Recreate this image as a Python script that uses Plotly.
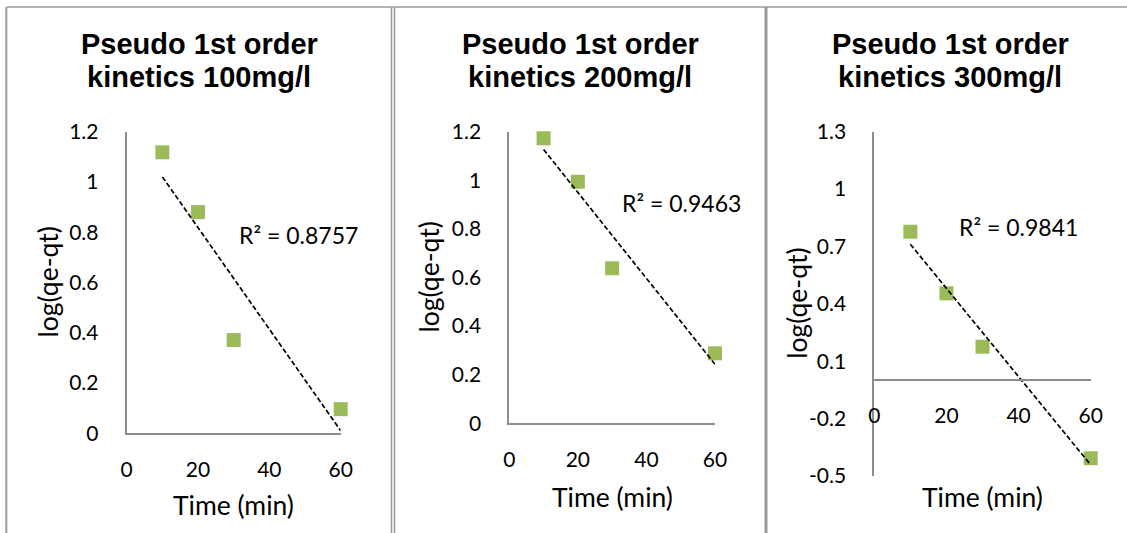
import numpy as np
import plotly.graph_objects as go

W, H = 1127, 533

# Sampling times (min) and log(qe - qt) for each initial concentration
time_min = [10, 20, 30, 60]
log_100 = [1.118, 0.880, 0.371, 0.096]
log_200 = [1.173, 0.994, 0.638, 0.288]
log_300 = [0.777, 0.455, 0.176, -0.407]

titles = [["Pseudo 1st order", "kinetics 100mg/l"],
          ["Pseudo 1st order", "kinetics 200mg/l"],
          ["Pseudo 1st order", "kinetics 300mg/l"]]
r2_labels = ["R² = 0.8757", "R² = 0.9463", "R² = 0.9841"]

x_ticks = [0, 20, 40, 60]
y_ticks_a = [0, 0.2, 0.4, 0.6, 0.8, 1, 1.2]
y_ticks_a_text = ["0", "0.2", "0.4", "0.6", "0.8", "1", "1.2"]
y_ticks_c = [-0.5, -0.2, 0.1, 0.4, 0.7, 1, 1.3]
y_ticks_c_text = ["-0.5", "-0.2", "0.1", "0.4", "0.7", "1", "1.3"]

GREEN = "#9BBB59"
AXIS = "#8c8c8c"
FRAME = "#9a9a9a"
TICK_FONT = dict(family="Lato, Open Sans, sans-serif", size=21, color="#000000")
TITLE_FONT = dict(family="Liberation Sans, Arial, sans-serif", size=29, color="#000000")
LABEL_FONT = dict(family="Lato, Open Sans, sans-serif", size=26.5, color="#000000")
R2_FONT = dict(family="Lato, Open Sans, sans-serif", size=23, color="#000000")


def px(x):
    return x / W


def py(y):
    return 1 - y / H


# plot-area boxes in pixels: (left, right, top, bottom)
boxes = [(126.7, 340.7, 131.7, 433.3),
         (509.3, 715.0, 131.7, 423.3),
         (874.3, 1090.7, 131.7, 476.0)]
series = [log_100, log_200, log_300]

fig = go.Figure()

for i, (ys, box) in enumerate(zip(series, boxes)):
    n = "" if i == 0 else str(i + 1)
    xa, ya = "x" + n, "y" + n
    fig.add_trace(go.Scatter(
        x=time_min, y=ys, mode="markers", xaxis=xa, yaxis=ya,
        marker=dict(symbol="square", size=14, color=GREEN),
        cliponaxis=False, showlegend=False, hoverinfo="skip"))
    # least-squares linear trendline
    slope, intercept = np.polyfit(time_min, ys, 1)
    tx = [min(time_min), max(time_min)]
    ty = [slope * t + intercept for t in tx]
    fig.add_trace(go.Scatter(
        x=tx, y=ty, mode="lines", xaxis=xa, yaxis=ya,
        line=dict(color="#000000", width=1.7, dash="5px,2.5px"),
        cliponaxis=False, showlegend=False, hoverinfo="skip"))

layout = dict(
    width=W, height=H,
    margin=dict(l=0, r=0, t=0, b=0, pad=0, autoexpand=False),
    paper_bgcolor="white", plot_bgcolor="white", showlegend=False,
)

for i, box in enumerate(boxes):
    n = "" if i == 0 else str(i + 1)
    l, r, t, b = box
    if i < 2:
        yrange, yvals, ytext = [0, 1.2], y_ticks_a, y_ticks_a_text
    else:
        yrange, yvals, ytext = [-0.5, 1.3], y_ticks_c, y_ticks_c_text
    xaxis = dict(
        domain=[px(l), px(r)], range=[0, 60], tickmode="array",
        tickvals=x_ticks, ticktext=[str(v) for v in x_ticks],
        showgrid=False, zeroline=False, showline=True, linecolor=AXIS,
        linewidth=2, ticks="", tickfont=TICK_FONT, ticklabelstandoff=16,
        anchor="y" + n, fixedrange=True, automargin=False,
    )
    yaxis = dict(
        domain=[py(b), py(t)], range=yrange, tickmode="array",
        tickvals=yvals, ticktext=ytext, showgrid=False, zeroline=False,
        showline=True, linecolor=AXIS, linewidth=2, ticks="",
        tickfont=TICK_FONT, ticklabelstandoff=22, anchor="x" + n,
        fixedrange=True, automargin=False,
    )
    if i == 2:
        # horizontal axis crosses the vertical axis at zero
        y0 = py(b) + (0 - yrange[0]) / (yrange[1] - yrange[0]) * (py(t) - py(b))
        xaxis.update(anchor="free", position=y0)
    layout["xaxis" + n] = xaxis
    layout["yaxis" + n] = yaxis

fig.update_layout(**layout)

annotations = []
title_cx = [199, 580, 950]
ytitle_cx = [47, 428, 797]
xtitle_cy = [505, 497, 497]
r2_pos = [(236.7, 235), (620, 203), (956.7, 227)]
for i, box in enumerate(boxes):
    l, r, t, b = box
    for k, line in enumerate(titles[i]):
        annotations.append(dict(
            text="<b>%s</b>" % line, x=px(title_cx[i]), y=py([44, 77][k]),
            xref="paper", yref="paper", xanchor="center", yanchor="middle",
            showarrow=False, font=TITLE_FONT))
    annotations.append(dict(
        text="Time (min)", x=px((l + r) / 2), y=py(xtitle_cy[i]),
        xref="paper", yref="paper", xanchor="center", yanchor="middle",
        showarrow=False, font=LABEL_FONT))
    annotations.append(dict(
        text="log(qe-qt)", x=px(ytitle_cx[i]), y=py((t + b) / 2),
        xref="paper", yref="paper", xanchor="center", yanchor="middle",
        textangle=-90, showarrow=False, font=LABEL_FONT))
    annotations.append(dict(
        text=r2_labels[i], x=px(r2_pos[i][0]), y=py(r2_pos[i][1]),
        xref="paper", yref="paper", xanchor="left", yanchor="middle",
        showarrow=False, font=R2_FONT))

# panel frames
shapes = [
    dict(type="line", x0=px(7), x1=1, y0=py(7), y1=py(7),
         line=dict(color=FRAME, width=1.5)),
    dict(type="line", x0=px(6.3), x1=px(6.3), y0=0, y1=py(7),
         line=dict(color=FRAME, width=2)),
    dict(type="line", x0=px(391.5), x1=px(391.5), y0=0, y1=py(7),
         line=dict(color=FRAME, width=1.5)),
    dict(type="line", x0=px(394.5), x1=px(394.5), y0=0, y1=py(7),
         line=dict(color=FRAME, width=1.5)),
    dict(type="line", x0=px(766), x1=px(766), y0=0, y1=py(7),
         line=dict(color=FRAME, width=3)),
]
for s in shapes:
    s.update(xref="paper", yref="paper", layer="above")

fig.update_layout(annotations=annotations, shapes=shapes)
fig.write_html(
    "out.html",
    post_script="document.body.style.margin='0';"
                "document.body.style.overflow='hidden';",
)
